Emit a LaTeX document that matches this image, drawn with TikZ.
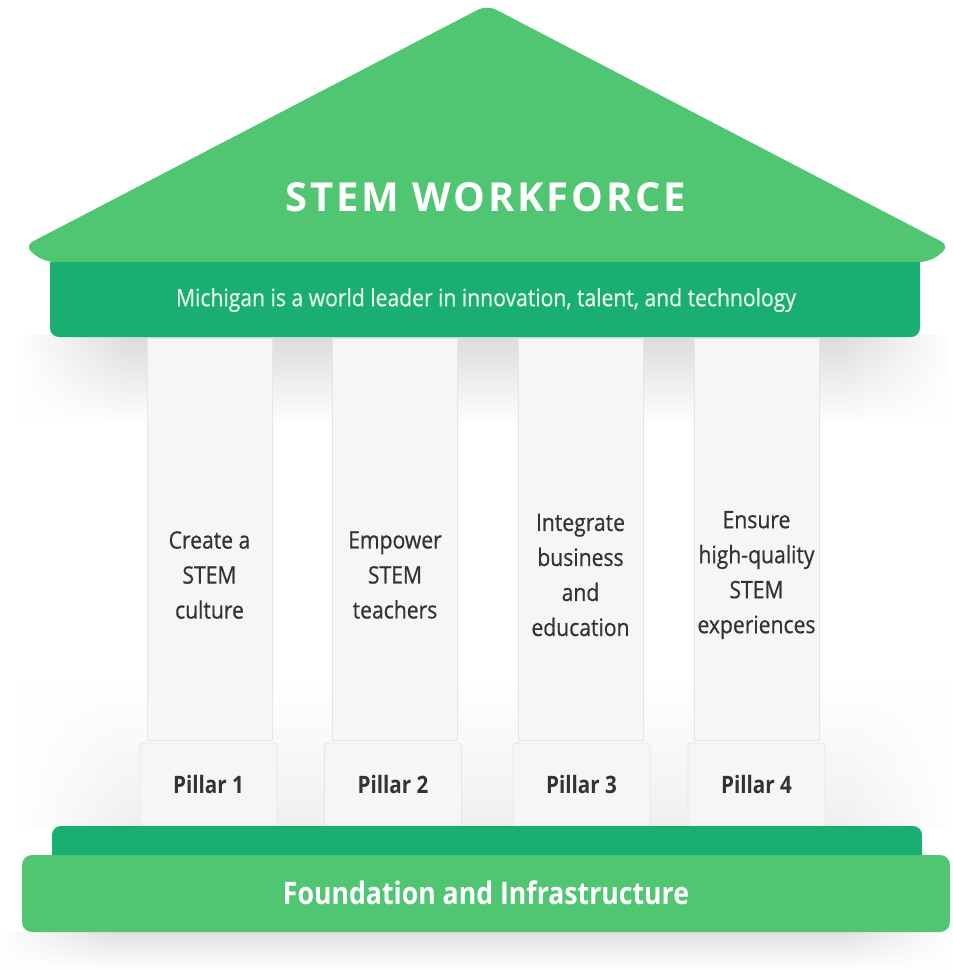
\documentclass[tikz,border=0pt]{standalone}
\usepackage{fontspec}
\usetikzlibrary{fadings}
\setmainfont{Open Sans}
\newfontfamily\condfont[FakeStretch=0.86]{Open Sans}
\newfontfamily\medfont[FakeStretch=0.88, FakeBold=0.6]{Open Sans}
\newfontfamily\titlefont[LetterSpace=7]{Open Sans}
\definecolor{roofgreen}{HTML}{50C673}
\definecolor{bandgreen}{HTML}{1AAE71}
\definecolor{pillarfill}{HTML}{F6F6F6}
\definecolor{pillarline}{HTML}{E6E6E6}
\definecolor{darktext}{HTML}{333333}
\definecolor{bannertext}{HTML}{E4F6EA}
\pgfdeclarehorizontalshading{edgefadeshade}{100bp}{color(0bp)=(pgftransparent!100); color(25bp)=(pgftransparent!100); color(31bp)=(pgftransparent!0); color(69bp)=(pgftransparent!0); color(75bp)=(pgftransparent!100); color(100bp)=(pgftransparent!100)}
\pgfdeclarefading{edgefade}{\pgfuseshading{edgefadeshade}}
\tikzset{
  shaft/.style={draw=pillarline, fill=pillarfill, line width=0.8pt, minimum width=125pt, minimum height=402pt, inner sep=0pt},
  pbase/.style={draw=pillarline, fill=pillarfill, line width=0.8pt, rounded corners=3pt, minimum width=137pt, minimum height=83pt, inner sep=0pt},
  ptext/.style={font=\medfont\fontsize{24}{35}\selectfont, text=darktext, align=center},
  plabel/.style={font=\condfont\bfseries\fontsize{24}{28}\selectfont, text=darktext},
}
\begin{document}
\begin{tikzpicture}[x=1pt,y=-1pt]
\useasboundingbox (0,0) rectangle (953,970);
\fill[white] (0,0) rectangle (953,970);
% soft shadows
\shade[top color=black!14, bottom color=white, path fading=edgefade] (20,336) rectangle (950,425);
\shade[top color=white, bottom color=black!6, path fading=edgefade] (20,680) rectangle (950,826);
\shade[top color=black!12, bottom color=white, path fading=edgefade] (0,932) rectangle (953,970);
% roof
\fill[roofgreen, rounded corners=10pt] (44,262) -- (24,246) -- (487,5) -- (950,246) -- (930,262) -- cycle;
% banner
\fill[bandgreen, rounded corners=9pt] (50,262) -- (50,337) -- (920,337) -- (920,262);
\fill[bandgreen] (50,262) rectangle (920,275);
\node[font=\titlefont\bfseries\fontsize{40}{48}\selectfont, text=white] (title) at (486,197) {STEM WORKFORCE};
\node[font=\medfont\fontsize{24}{28}\selectfont, text=bannertext] (motto) at (486,300) {Michigan is a world leader in innovation, talent, and technology};
% shafts
\node[shaft] (s1) at (209.5,539) {};
\node[shaft] (s2) at (395,539) {};
\node[shaft] (s3) at (580.5,539) {};
\node[shaft] (s4) at (756.5,539) {};
% bases
\node[pbase] (b1) at (208.5,784.5) {};
\node[pbase] (b2) at (393,784.5) {};
\node[pbase] (b3) at (581.5,784.5) {};
\node[pbase] (b4) at (756.5,784.5) {};
% pillar texts
\node[ptext] (t1) at (s1.center |- 0,575) {Create a\\STEM\\culture};
\node[ptext] (t2) at (s2.center |- 0,575) {Empower\\STEM\\teachers};
\node[ptext] (t3) at (s3.center |- 0,575) {Integrate\\business\\and\\education};
\node[ptext] (t4) at (s4.center |- 0,575) {Ensure\\high-quality\\STEM\\experiences};
\node[plabel] (l1) at (b1.center) {Pillar 1};
\node[plabel] (l2) at (b2.center) {Pillar 2};
\node[plabel] (l3) at (b3.center) {Pillar 3};
\node[plabel] (l4) at (b4.center) {Pillar 4};
% foundation
\fill[bandgreen, rounded corners=9pt] (52,870) -- (52,826) -- (922,826) -- (922,870);
\fill[roofgreen, rounded corners=10pt] (22,855) rectangle (950,932);
\node[font=\condfont\bfseries\fontsize{31}{37}\selectfont, text=white] (found) at (486,893) {Foundation and Infrastructure};
\end{tikzpicture}
\end{document}
